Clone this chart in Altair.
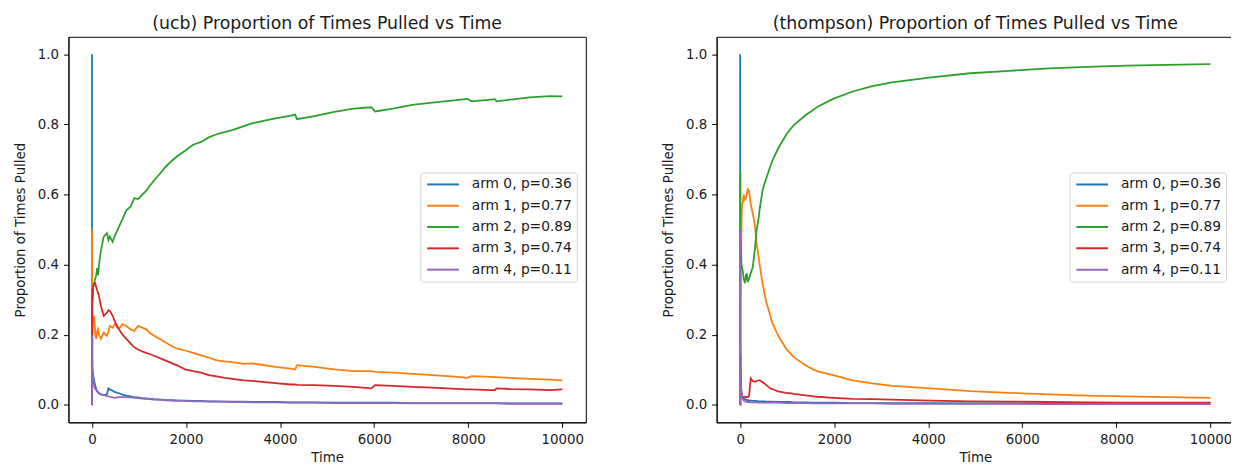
import altair as alt
import pandas as pd

ARMS = ["arm 0, p=0.36", "arm 1, p=0.77", "arm 2, p=0.89", "arm 3, p=0.74", "arm 4, p=0.11"]
COLORS = ["#1f77b4", "#ff7f0e", "#2ca02c", "#d62728", "#9467bd"]
X_TICKS = [0, 2000, 4000, 6000, 8000, 10000]
Y_TICKS = [0.0, 0.2, 0.4, 0.6, 0.8, 1.0]

# ---------------- UCB ----------------
T_UCB = [0, 1, 2, 3, 4, 6, 10, 20, 30, 50, 70, 90, 110, 130, 150, 190, 250, 320, 350, 380,
         440, 480, 570, 650, 730, 820, 900, 980, 1070, 1150, 1230, 1320, 1480, 1570, 1730, 1820,
         1980, 2150, 2320, 2480, 2650, 2820, 2980, 3230, 3400, 3570, 3900, 4230, 4320, 4360,
         4730, 5150, 5560, 5940, 6020, 6400, 6810, 7230, 7650, 7980, 8070, 8480, 8570, 8600,
         8900, 9310, 9730, 10000]
UCB_ARM0 = [1.0, 0.5, 0.333, 0.25, 0.2, 0.143, 0.1, 0.09, 0.08, 0.066, 0.055, 0.045, 0.038, 0.035,
            0.033, 0.030, 0.028, 0.030, 0.047, 0.044, 0.040, 0.037, 0.033, 0.029, 0.026, 0.024,
            0.022, 0.021, 0.019, 0.018, 0.017, 0.016, 0.015, 0.014, 0.013, 0.012, 0.012, 0.011,
            0.011, 0.010, 0.010, 0.009, 0.009, 0.009, 0.008, 0.008, 0.008, 0.007, 0.007, 0.007,
            0.007, 0.006, 0.006, 0.006, 0.006, 0.006, 0.005, 0.005, 0.005, 0.005, 0.005, 0.005,
            0.005, 0.005, 0.004, 0.004, 0.004, 0.004]
UCB_ARM1 = [0.0, 0.5, 0.333, 0.25, 0.2, 0.143, 0.2, 0.25, 0.23, 0.254, 0.2, 0.188, 0.21, 0.216,
            0.2, 0.188, 0.206, 0.197, 0.21, 0.225, 0.22, 0.23, 0.216, 0.23, 0.225, 0.215, 0.211,
            0.225, 0.22, 0.216, 0.205, 0.197, 0.185, 0.178, 0.165, 0.16, 0.155, 0.148, 0.141,
            0.135, 0.127, 0.124, 0.122, 0.117, 0.118, 0.115, 0.108, 0.103, 0.101, 0.113, 0.108,
            0.101, 0.096, 0.096, 0.094, 0.092, 0.088, 0.085, 0.081, 0.077, 0.082, 0.080, 0.079,
            0.079, 0.077, 0.074, 0.072, 0.070]
UCB_ARM2 = [0.0, 0.0, 0.333, 0.25, 0.2, 0.286, 0.3, 0.33, 0.34, 0.35, 0.36, 0.37, 0.39, 0.37,
            0.4, 0.44, 0.48, 0.49, 0.47, 0.48, 0.465, 0.48, 0.507, 0.53, 0.555, 0.565, 0.59,
            0.587, 0.6, 0.61, 0.625, 0.64, 0.665, 0.68, 0.7, 0.71, 0.725, 0.742, 0.75, 0.763,
            0.772, 0.778, 0.784, 0.795, 0.803, 0.808, 0.817, 0.825, 0.828, 0.815, 0.824, 0.836,
            0.845, 0.849, 0.837, 0.845, 0.856, 0.862, 0.868, 0.873, 0.866, 0.871, 0.872, 0.866,
            0.871, 0.877, 0.881, 0.880]
UCB_ARM3 = [0.0, 0.0, 0.0, 0.25, 0.2, 0.286, 0.3, 0.33, 0.34, 0.345, 0.347, 0.335, 0.327, 0.32,
            0.31, 0.282, 0.254, 0.263, 0.27, 0.268, 0.254, 0.24, 0.216, 0.2, 0.188, 0.175, 0.164,
            0.158, 0.152, 0.148, 0.145, 0.14, 0.131, 0.126, 0.117, 0.112, 0.101, 0.096, 0.092,
            0.085, 0.081, 0.077, 0.074, 0.07, 0.068, 0.066, 0.062, 0.058, 0.058, 0.057, 0.056,
            0.054, 0.051, 0.047, 0.056, 0.054, 0.051, 0.049, 0.046, 0.044, 0.044, 0.042, 0.042,
            0.047, 0.045, 0.044, 0.042, 0.044]
UCB_ARM4 = [0.0, 0.0, 0.0, 0.0, 0.2, 0.143, 0.1, 0.09, 0.066, 0.05, 0.045, 0.042, 0.04, 0.036,
            0.033, 0.03, 0.028, 0.025, 0.024, 0.023, 0.021, 0.02, 0.022, 0.022, 0.022, 0.021,
            0.02, 0.019, 0.018, 0.017, 0.016, 0.015, 0.014, 0.013, 0.012, 0.012, 0.011, 0.01,
            0.01, 0.009, 0.009, 0.009, 0.008, 0.008, 0.007, 0.007, 0.007, 0.006, 0.006, 0.006,
            0.006, 0.005, 0.005, 0.005, 0.005, 0.005, 0.004, 0.004, 0.004, 0.004, 0.004, 0.004,
            0.004, 0.004, 0.003, 0.003, 0.003, 0.003]

# ---------------- Thompson ----------------
T_TS = [0, 1, 2, 3, 4, 5, 6, 7, 8, 10, 14, 20, 30, 40, 60, 75, 100, 125, 140, 160, 180, 190,
        225, 270, 310, 350, 390, 410, 475, 515, 560, 640, 680, 810, 975, 1060, 1140, 1390, 1560,
        1640, 1975, 2390, 2810, 3225, 4060, 4890, 5720, 6560, 7390, 8220, 9050, 10000]
TS_ARM0 = [1.0, 0.5, 0.333, 0.25, 0.2, 0.167, 0.143, 0.125, 0.111, 0.09, 0.067, 0.048, 0.032,
           0.025, 0.02, 0.018, 0.016, 0.015, 0.014, 0.013, 0.013, 0.012, 0.012, 0.011, 0.011,
           0.011, 0.01, 0.01, 0.01, 0.01, 0.009, 0.009, 0.009, 0.008, 0.008, 0.008, 0.007, 0.007,
           0.006, 0.006, 0.006, 0.005, 0.005, 0.005, 0.005, 0.004, 0.004, 0.004, 0.003, 0.003,
           0.003, 0.003]
TS_ARM1 = [0.0, 0.0, 0.0, 0.0, 0.0, 0.0, 0.0, 0.125, 0.222, 0.273, 0.333, 0.43, 0.52, 0.57, 0.58,
           0.6, 0.585, 0.59, 0.6, 0.615, 0.612, 0.61, 0.573, 0.545, 0.516, 0.46, 0.425, 0.404,
           0.347, 0.32, 0.291, 0.255, 0.235, 0.197, 0.16, 0.148, 0.136, 0.113, 0.1, 0.096, 0.085,
           0.07, 0.061, 0.054, 0.047, 0.039, 0.034, 0.03, 0.026, 0.024, 0.022, 0.02]
TS_ARM2 = [0.0, 0.0, 0.333, 0.5, 0.6, 0.667, 0.571, 0.5, 0.444, 0.45, 0.47, 0.43, 0.4, 0.39, 0.38,
           0.36, 0.347, 0.37, 0.375, 0.35, 0.357, 0.36, 0.375, 0.394, 0.44, 0.498, 0.53, 0.554,
           0.61, 0.63, 0.648, 0.68, 0.695, 0.732, 0.77, 0.785, 0.798, 0.826, 0.842, 0.85, 0.873,
           0.894, 0.909, 0.92, 0.934, 0.946, 0.953, 0.96, 0.964, 0.968, 0.97, 0.972]
TS_ARM3 = [0.0, 0.0, 0.0, 0.0, 0.0, 0.0, 0.143, 0.125, 0.111, 0.09, 0.067, 0.05, 0.03, 0.025,
           0.022, 0.022, 0.023, 0.022, 0.022, 0.022, 0.023, 0.025, 0.075, 0.068, 0.066, 0.068,
           0.07, 0.07, 0.065, 0.061, 0.056, 0.047, 0.045, 0.038, 0.034, 0.033, 0.031, 0.027,
           0.024, 0.023, 0.02, 0.017, 0.016, 0.015, 0.012, 0.01, 0.009, 0.008, 0.007, 0.006,
           0.006, 0.006]
TS_ARM4 = [0.0, 0.5, 0.333, 0.25, 0.2, 0.167, 0.143, 0.125, 0.111, 0.09, 0.067, 0.045, 0.03,
           0.02, 0.015, 0.013, 0.01, 0.009, 0.009, 0.008, 0.008, 0.008, 0.007, 0.007, 0.007,
           0.007, 0.006, 0.006, 0.006, 0.006, 0.006, 0.006, 0.006, 0.006, 0.005, 0.005, 0.005,
           0.005, 0.004, 0.004, 0.004, 0.004, 0.004, 0.003, 0.003, 0.003, 0.003, 0.002, 0.002,
           0.002, 0.002, 0.002]

FONT = "DejaVu Sans"
TEXT = "#1a1a1a"


def frame(times, series):
    rows = []
    for arm, vals in zip(ARMS, series):
        for t, v in zip(times, vals):
            rows.append({"Time": t, "prop": v, "arm": arm})
    return pd.DataFrame(rows)


def panel(title, times, series, legend_x):
    df = frame(times, series)
    legend = alt.Legend(
        title=None, orient="none", legendX=legend_x, legendY=137,
        symbolType="M-1,0H5.4", symbolSize=100, symbolStrokeWidth=2,
        labelOffset=33, padding=5, rowPadding=6.5,
        labelFont=FONT, labelFontSize=13.9, labelColor=TEXT,
        strokeColor="#d4d4d4", fillColor="rgba(255,255,255,0.85)", cornerRadius=3,
    )
    color = alt.Color("arm:N", scale=alt.Scale(domain=ARMS, range=COLORS), legend=legend)
    x = alt.X("Time:Q", title="Time",
              scale=alt.Scale(domain=[-500, 10500], nice=False, zero=False),
              axis=alt.Axis(values=X_TICKS, format="d"))
    y = alt.Y("prop:Q", title="Proportion of Times Pulled",
              scale=alt.Scale(domain=[-0.05, 1.05], nice=False, zero=False),
              axis=alt.Axis(values=Y_TICKS, format=".1f"))
    layers = []
    for arm in ARMS:
        layers.append(
            alt.Chart(df).transform_filter(alt.datum.arm == arm)
            .mark_line(strokeWidth=1.8, clip=True)
            .encode(x=x, y=y, color=color, order="Time:Q")
        )
    return alt.layer(*layers).properties(
        width=522, height=389,
        title=alt.TitleParams(title, fontSize=17.5, font=FONT, fontWeight="normal",
                              color=TEXT, offset=-10, baseline="alphabetic"),
    )


left = panel("(ucb) Proportion of Times Pulled vs Time", T_UCB,
             [UCB_ARM0, UCB_ARM1, UCB_ARM2, UCB_ARM3, UCB_ARM4], 355)
right = panel("(thompson) Proportion of Times Pulled vs Time", T_TS,
              [TS_ARM0, TS_ARM1, TS_ARM2, TS_ARM3, TS_ARM4], 356)

chart = (
    alt.hconcat(left, right, spacing=75)
    .resolve_scale(color="independent")
    .properties(padding={"left": 5, "top": 5, "right": -4, "bottom": 0}, background="white")
    .configure_view(stroke="black", strokeWidth=1)
    .configure_axis(
        grid=False, domainColor="black", domainWidth=1, tickColor="black", tickWidth=1,
        tickSize=5, labelFont=FONT, labelFontSize=13.5, labelColor=TEXT, labelPadding=5,
        titleFont=FONT, titleFontSize=13.5, titleFontWeight="normal", titleColor=TEXT,
    )
    .configure_axisX(titlePadding=5)
    .configure_axisY(titlePadding=10)
)

chart.save("out.html", embed_options={"renderer": "svg", "actions": False})
